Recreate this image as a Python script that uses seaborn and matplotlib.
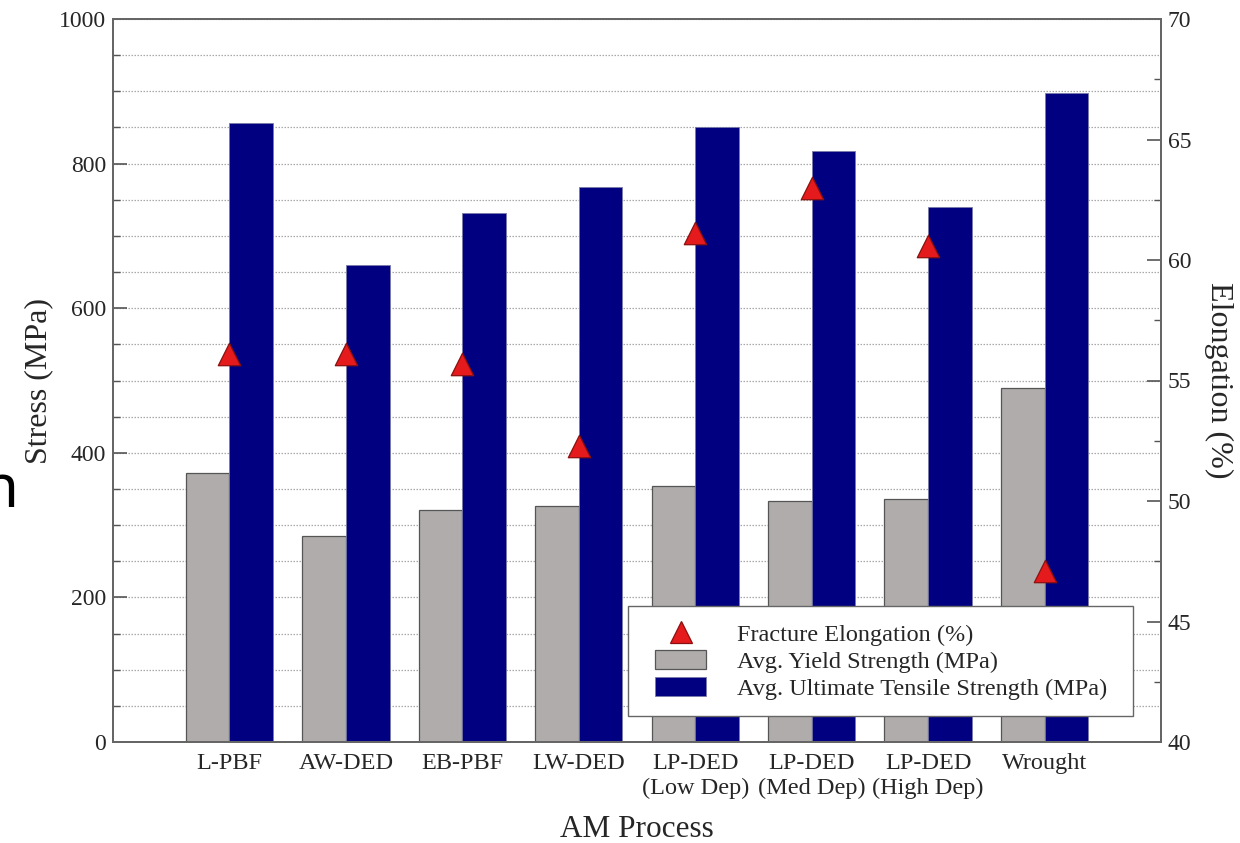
import numpy as np
import pandas as pd
import matplotlib
matplotlib.use("Agg")
import matplotlib.pyplot as plt
from matplotlib.patches import Patch, Rectangle
from matplotlib.lines import Line2D
from matplotlib.ticker import MultipleLocator
import seaborn as sns

# Tensile properties by additive-manufacturing process
processes = ["L-PBF", "AW-DED", "EB-PBF", "LW-DED",
             "LP-DED\n(Low Dep)", "LP-DED\n(Med Dep)", "LP-DED\n(High Dep)", "Wrought"]
yield_strength = [372, 285, 321, 326, 354, 334, 336, 490]      # MPa
tensile_strength = [856, 660, 731, 768, 850, 817, 740, 897]    # MPa
elongation = [56.1, 56.1, 55.7, 52.3, 61.1, 63.0, 60.6, 47.1]  # %

lab_elong = "Fracture Elongation (%)"
lab_ys = "Avg. Yield Strength (MPa)"
lab_uts = "Avg. Ultimate Tensile Strength (MPa)"

GRAY = "#B0ACAC"
NAVY = "#000080"
RED = "#E41A1C"

sns.set_theme(style="white")
plt.rcParams["font.family"] = ["Liberation Serif", "DejaVu Serif"]
plt.rcParams["mathtext.fontset"] = "stix"

stress = pd.DataFrame({
    "process": processes * 2,
    "stress": yield_strength + tensile_strength,
    "measure": [lab_ys] * len(processes) + [lab_uts] * len(processes),
})
elong = pd.DataFrame({"process": processes, "elongation": elongation})

fig = plt.figure(figsize=(12.4, 8.43), dpi=100)
ax = fig.add_axes([113 / 1240, 101 / 843, 1048 / 1240, 723 / 843])

sns.barplot(data=stress, x="process", y="stress", hue="measure",
            palette=[GRAY, NAVY], saturation=1, width=0.75, gap=0, ax=ax,
            legend=False, edgecolor="#555555", linewidth=0.9)
for bar in ax.patches[len(processes):]:
    bar.set_edgecolor("#7a7aa8")
    bar.set_linewidth(0.6)

ax.set_xlim(-1, len(processes))
ax.set_ylim(0, 1000)
ax.yaxis.set_major_locator(MultipleLocator(200))
ax.yaxis.set_minor_locator(MultipleLocator(50))
ax.set_axisbelow(True)
ax.grid(which="both", axis="y", linestyle=(0, (1.2, 1.2)), color="#a8a8a8", linewidth=0.9)
ax.grid(which="major", axis="x", visible=False)

ax.tick_params(axis="y", which="major", direction="in", length=10, width=1.2,
               color="#555555", labelsize=17, pad=5)
ax.tick_params(axis="y", which="minor", direction="in", length=5, width=1.0,
               color="#555555")
ax.tick_params(axis="x", length=0, labelsize=17.5, pad=8)
for lbl in ax.get_xticklabels():
    lbl.set_linespacing(1.25)

ax.set_xlabel("AM Process", fontsize=22.5, labelpad=11)
ax.set_ylabel("Stress (MPa)", fontsize=23, labelpad=4)

for side in ["left", "right", "top", "bottom"]:
    ax.spines[side].set_color("#666666")
    ax.spines[side].set_linewidth(1.4)

# Elongation on a secondary axis
ax2 = ax.twinx()
sns.scatterplot(data=elong, x="process", y="elongation", ax=ax2, marker="^",
                s=260, color=RED, edgecolor="#8B1010", linewidth=0.9, zorder=5,
                legend=False)
ax2.set_xlim(-1, len(processes))
ax2.set_ylim(40, 70)
ax2.yaxis.set_major_locator(MultipleLocator(5))
ax2.yaxis.set_minor_locator(MultipleLocator(2.5))
ax2.tick_params(axis="y", which="major", direction="in", length=10, width=1.2,
                color="#555555", labelsize=17, pad=5)
ax2.tick_params(axis="y", which="minor", direction="in", length=5, width=1.0,
                color="#555555")
ax2.set_ylabel("Elongation (%)", fontsize=23, rotation=270, labelpad=30)
ax2.set_xlabel("")
for side in ["left", "right", "top", "bottom"]:
    ax2.spines[side].set_color("#666666")
    ax2.spines[side].set_linewidth(1.4)

# Legend box with wider side margins than the default frame
box = Rectangle((0.4914, 0.036), 0.4816, 0.152, transform=ax2.transAxes,
                facecolor="white", edgecolor="#666666", linewidth=1.0,
                zorder=6, clip_on=False)
ax2.add_patch(box)

handles = [
    Line2D([], [], marker="^", linestyle="none", markersize=16,
           markerfacecolor=RED, markeredgecolor="#8B1010", markeredgewidth=0.9),
    Patch(facecolor=GRAY, edgecolor="#555555", linewidth=0.9),
    Patch(facecolor=NAVY, edgecolor="#7a7aa8", linewidth=0.6),
]
leg = ax2.legend(handles, [lab_elong, lab_ys, lab_uts], loc="lower right",
                 bbox_to_anchor=(0.9485, 0.058), borderaxespad=0, fontsize=17.5,
                 frameon=False, handlelength=2.1, handleheight=0.8,
                 handletextpad=1.25, labelspacing=0.17, borderpad=0)
leg.set_zorder(7)

# Partial heading glyph at the left margin
fig.text(-0.0145, 0.3986, "n", fontsize=43, family=["Noto Sans", "DejaVu Sans"],
         va="baseline", ha="left", color="black")

fig.savefig("out.png", dpi=100)
